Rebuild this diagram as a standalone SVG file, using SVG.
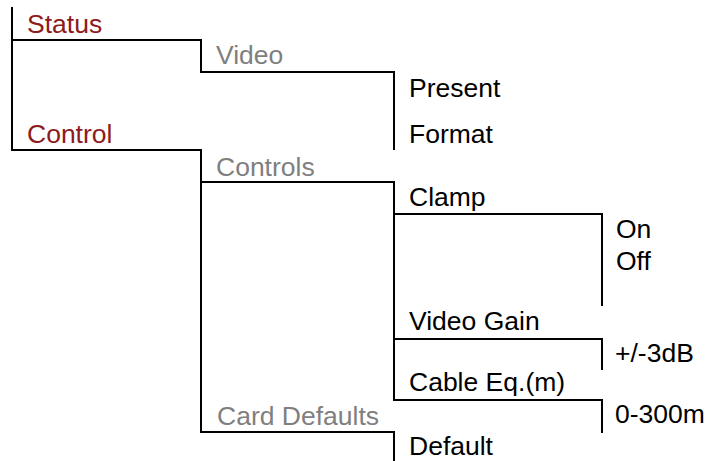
<svg xmlns="http://www.w3.org/2000/svg" width="706" height="461" viewBox="0 0 706 461">
<style>
.c{fill:none;stroke:#000;stroke-width:2;stroke-linecap:square;stroke-linejoin:miter}
text{font-family:"Liberation Sans",Arial,sans-serif;font-size:26.5px}
.r{fill:#8E1B1B}
.g{fill:#7F7F7F}
.k{fill:#000}
</style>
<rect width="706" height="461" fill="#fff"/>
<g id="connectors">
<path class="c" d="M12,8 V150 H201 V432 H394 V461"/>
<path class="c" d="M12,40 H201 V72 H394 V149"/>
<path class="c" d="M201,182 H394 V400 H602 V432"/>
<path class="c" d="M394,214 H602 V305"/>
<path class="c" d="M394,339 H602 V369"/>
</g>
<g id="status"><text class="r" x="27" y="33">Status</text></g>
<g id="video"><text class="g" x="216" y="64">Video</text></g>
<g id="present"><text class="k" x="409" y="97">Present</text></g>
<g id="format"><text class="k" x="409" y="143">Format</text></g>
<g id="control"><text class="r" x="27" y="143">Control</text></g>
<g id="controls"><text class="g" x="216" y="176">Controls</text></g>
<g id="clamp"><text class="k" x="409" y="206">Clamp</text></g>
<g id="on"><text class="k" x="616" y="238">On</text></g>
<g id="off"><text class="k" x="616" y="270">Off</text></g>
<g id="videogain"><text class="k" x="409" y="330">Video Gain</text></g>
<g id="gainval"><text class="k" x="615" y="362">+/-3dB</text></g>
<g id="cableeq"><text class="k" x="409" y="391">Cable Eq.(m)</text></g>
<g id="cableval"><text class="k" x="615" y="423">0-300m</text></g>
<g id="carddefaults"><text class="g" x="217" y="425">Card Defaults</text></g>
<g id="default"><text class="k" x="409" y="455">Default</text></g>
</svg>
